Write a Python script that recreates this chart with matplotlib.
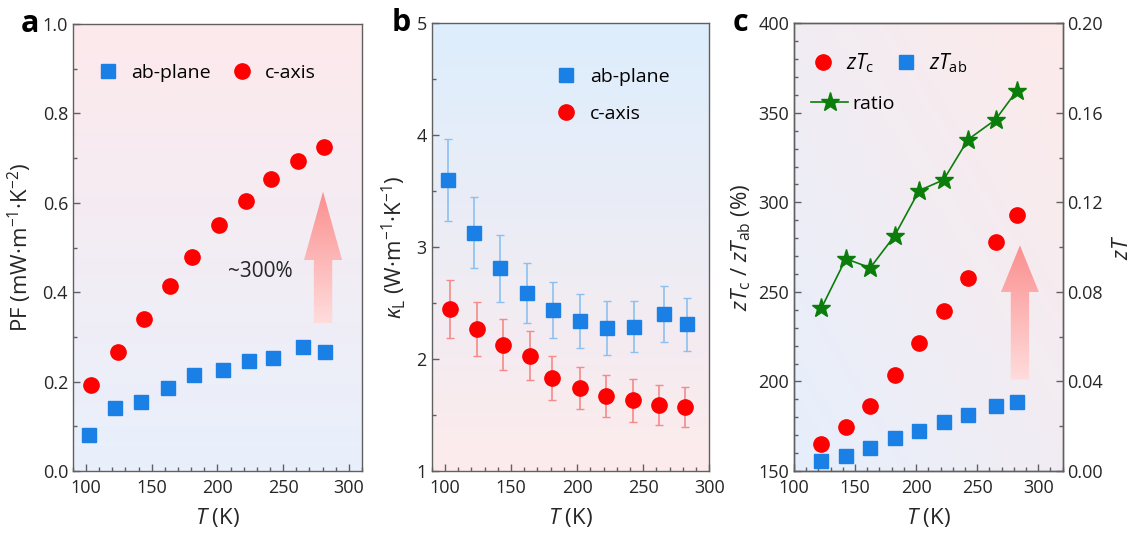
import numpy as np
import matplotlib
matplotlib.use("Agg")
import matplotlib.pyplot as plt
from matplotlib.patches import Polygon
from matplotlib.ticker import MultipleLocator
from matplotlib.colors import LinearSegmentedColormap

plt.rcParams['font.family'] = ['Open Sans', 'DejaVu Sans']
plt.rcParams['mathtext.fontset'] = 'custom'
plt.rcParams['mathtext.rm'] = 'Open Sans'
plt.rcParams['mathtext.it'] = 'Open Sans:italic'
plt.rcParams['mathtext.bf'] = 'Open Sans:bold'

# ---- data ----
# panel a : power factor
T_pf_ab = [102, 122, 142, 162, 182, 204, 224, 242, 265, 282]
pf_ab = [0.080, 0.142, 0.155, 0.186, 0.214, 0.225, 0.245, 0.252, 0.277, 0.267]
T_pf_c = [104, 124, 144, 164, 181, 201, 222, 241, 261, 281]
pf_c = [0.192, 0.266, 0.341, 0.415, 0.479, 0.550, 0.604, 0.653, 0.694, 0.724]

# panel b : lattice thermal conductivity
T_k_ab = [102, 122, 142, 162, 182, 202.5, 223, 243, 266, 283]
k_ab = [3.60, 3.13, 2.81, 2.59, 2.44, 2.34, 2.28, 2.29, 2.40, 2.31]
k_ab_err = [0.37, 0.32, 0.30, 0.27, 0.25, 0.24, 0.24, 0.23, 0.25, 0.24]
T_k_c = [104, 124, 144, 164, 181, 202, 222, 242, 262, 282]
k_c = [2.45, 2.27, 2.13, 2.03, 1.83, 1.74, 1.67, 1.63, 1.59, 1.57]
k_c_err = [0.26, 0.24, 0.23, 0.22, 0.20, 0.19, 0.19, 0.19, 0.18, 0.18]

# panel c : zT and ratio
T_zt = [122.5, 142.5, 162.5, 182.5, 202.5, 222.5, 242.5, 265, 282.5]
ratio = [241, 268.5, 263.5, 281.5, 306.6, 312.6, 335.1, 346.2, 362.4]
zt_c = [0.0122, 0.0198, 0.0292, 0.0430, 0.0571, 0.0714, 0.0862, 0.1025, 0.1143]
zt_ab = [0.0045, 0.0068, 0.0104, 0.0146, 0.0179, 0.0220, 0.0249, 0.0289, 0.0308]

blue = '#1a80e5'
red = '#ff0000'
green = '#0b7d0b'
spine_c = '#606060'
txt_c = '#262626'

fig = plt.figure(figsize=(11.31, 5.34), dpi=100)


def style(ax, right_ticks=False):
    for s in ax.spines.values():
        s.set_color(spine_c)
        s.set_linewidth(1.0)
    ax.tick_params(which='both', direction='in', colors=spine_c, labelcolor=txt_c,
                   labelsize=13, top=False, right=right_ticks)
    ax.tick_params(which='major', length=5, width=1)
    ax.tick_params(which='minor', length=3, width=1)
    ax.tick_params(axis='x', pad=6)


def background(ax, c0, c1, diagonal=False):
    # c0 at bottom(-left), c1 at top(-right)
    cmap = LinearSegmentedColormap.from_list('bg', [c0, c1])
    if diagonal:
        xx, yy = np.meshgrid(np.linspace(0, 1, 100), np.linspace(0, 1, 100))
        g = (xx + yy) / 2
    else:
        g = np.linspace(0, 1, 100)[:, None]
    ax.imshow(g, cmap=cmap, extent=[0, 1, 0, 1], origin='lower', aspect='auto',
              transform=ax.transAxes, zorder=0, interpolation='bilinear')


def grad_arrow(ax, xc, y0, yhead, ytip, w, hw):
    pts = [(xc - w / 2, y0), (xc + w / 2, y0), (xc + w / 2, yhead), (xc + hw / 2, yhead),
           (xc, ytip), (xc - hw / 2, yhead), (xc - w / 2, yhead)]
    poly = Polygon(pts, closed=True, facecolor='none', edgecolor='none')
    ax.add_patch(poly)
    cmap = LinearSegmentedColormap.from_list('arr', ['#ffdcdc', '#fb8f8f'])
    g = np.linspace(0, 1, 100)[:, None]
    im = ax.imshow(g, cmap=cmap, extent=[xc - hw / 2, xc + hw / 2, y0, ytip], origin='lower',
                   aspect='auto', zorder=2, interpolation='bilinear')
    im.set_clip_path(poly)


# ---------- panel a ----------
ax1 = fig.add_axes([0.0645, 0.118, 0.2555, 0.837])
background(ax1, '#e8f0fc', '#fde9ec')
ax1.plot(T_pf_ab, pf_ab, 's', color=blue, ms=10, label='ab-plane', zorder=3)
ax1.plot(T_pf_c, pf_c, 'o', color=red, ms=11, label='c-axis', zorder=3)
grad_arrow(ax1, 280.4, 0.33, 0.472, 0.625, 14, 29)
ax1.text(208, 0.446, '~300%', fontsize=15, color=txt_c, va='center', ha='left')
ax1.set_xlim(90, 310)
ax1.set_ylim(0, 1.0)
ax1.xaxis.set_major_locator(MultipleLocator(50))
ax1.xaxis.set_minor_locator(MultipleLocator(10))
ax1.yaxis.set_major_locator(MultipleLocator(0.2))
ax1.yaxis.set_minor_locator(MultipleLocator(0.1))
ax1.yaxis.set_major_formatter(plt.FormatStrFormatter('%.1f'))
style(ax1)
ax1.set_xlabel('$T$ (K)', fontsize=16, color=txt_c, labelpad=6)
ax1.set_ylabel('PF (mW·m$^{-1}$·K$^{-2}$)', fontsize=16, color=txt_c, labelpad=6)
ax1.legend(loc='upper left', bbox_to_anchor=(0.02, 0.95), ncol=2, frameon=False,
           fontsize=14, numpoints=1, handlelength=1.2, handletextpad=0.6, columnspacing=1.0)
ax1.text(-0.18, 1.0, 'a', transform=ax1.transAxes, fontsize=22, fontweight='bold',
         va='center', ha='left')

# ---------- panel b ----------
ax2 = fig.add_axes([0.3817, 0.118, 0.2454, 0.8383])
background(ax2, '#fdebec', '#ddeefd')
ax2.errorbar(T_k_ab, k_ab, yerr=k_ab_err, fmt='s', color=blue, ms=10, ecolor='#8cc0f0',
             elinewidth=1.2, capsize=3, capthick=1, label='ab-plane', zorder=3)
ax2.errorbar(T_k_c, k_c, yerr=k_c_err, fmt='o', color=red, ms=11, ecolor='#f58a8a',
             elinewidth=1.2, capsize=3, capthick=1, label='c-axis', zorder=3)
ax2.set_xlim(90, 300)
ax2.set_ylim(1, 5)
ax2.xaxis.set_major_locator(MultipleLocator(50))
ax2.xaxis.set_minor_locator(MultipleLocator(10))
ax2.yaxis.set_major_locator(MultipleLocator(1))
ax2.yaxis.set_minor_locator(MultipleLocator(0.5))
style(ax2)
ax2.set_xlabel('$T$ (K)', fontsize=16, color=txt_c, labelpad=6)
ax2.set_ylabel('$\\kappa_{\\rm L}$ (W·m$^{-1}$·K$^{-1}$)', fontsize=16, color=txt_c, labelpad=6)
h, l = ax2.get_legend_handles_labels()
h = [x[0] for x in h]
ax2.legend(h, l, loc='upper left', bbox_to_anchor=(0.38, 0.94), frameon=False,
           fontsize=14, numpoints=1, handlelength=1.2, handletextpad=0.6, labelspacing=1.0)
ax2.text(-0.145, 1.0, 'b', transform=ax2.transAxes, fontsize=22, fontweight='bold',
         va='center', ha='left')

# ---------- panel c ----------
ax3 = fig.add_axes([0.702, 0.118, 0.2376, 0.8383])
background(ax3, '#e6effc', '#fdeaea', diagonal=True)
ax3b = ax3.twinx()
ln_r, = ax3.plot(T_zt, ratio, '-*', color=green, ms=14, lw=1.2, label='ratio', zorder=4)
grad_arrow(ax3, 285, 201, 250, 276, 15, 31)
p_c, = ax3b.plot(T_zt, zt_c, 'o', color=red, ms=11, label='$zT_{\\rm c}$', zorder=3)
p_ab, = ax3b.plot(T_zt, zt_ab, 's', color=blue, ms=10, label='$zT_{\\rm ab}$', zorder=3)
ax3.set_xlim(100, 320)
ax3.set_ylim(150, 400)
ax3b.set_ylim(0, 0.20)
ax3.xaxis.set_major_locator(MultipleLocator(50))
ax3.xaxis.set_minor_locator(MultipleLocator(10))
ax3.yaxis.set_major_locator(MultipleLocator(50))
ax3.yaxis.set_minor_locator(MultipleLocator(10))
ax3b.yaxis.set_major_locator(MultipleLocator(0.04))
ax3b.yaxis.set_minor_locator(MultipleLocator(0.02))
ax3b.yaxis.set_major_formatter(plt.FormatStrFormatter('%.2f'))
style(ax3)
style(ax3b, right_ticks=True)
ax3b.tick_params(which='both', left=False)
ax3.set_xlabel('$T$ (K)', fontsize=16, color=txt_c, labelpad=6)
ax3.set_ylabel('$zT_{\\rm c}$ / $zT_{\\rm ab}$ (%)', fontsize=16, color=txt_c, labelpad=4)
ax3b.set_ylabel('$zT$', fontsize=16, color=txt_c, labelpad=6)
leg1 = ax3b.legend([p_c, p_ab], [p_c.get_label(), p_ab.get_label()], loc='upper left',
                   bbox_to_anchor=(0.0, 0.98), ncol=2, frameon=False, fontsize=15,
                   numpoints=1, handlelength=1.0, handletextpad=0.6, columnspacing=1.0)
ax3b.add_artist(leg1)
ax3b.legend([ln_r], ['ratio'], loc='upper left', bbox_to_anchor=(0.0, 0.88), frameon=False,
            fontsize=14, numpoints=1, handlelength=1.9, handletextpad=0.2)
ax3.text(-0.227, 1.0, 'c', transform=ax3.transAxes, fontsize=22, fontweight='bold',
         va='center', ha='left')

fig.savefig('out.png', dpi=100)
